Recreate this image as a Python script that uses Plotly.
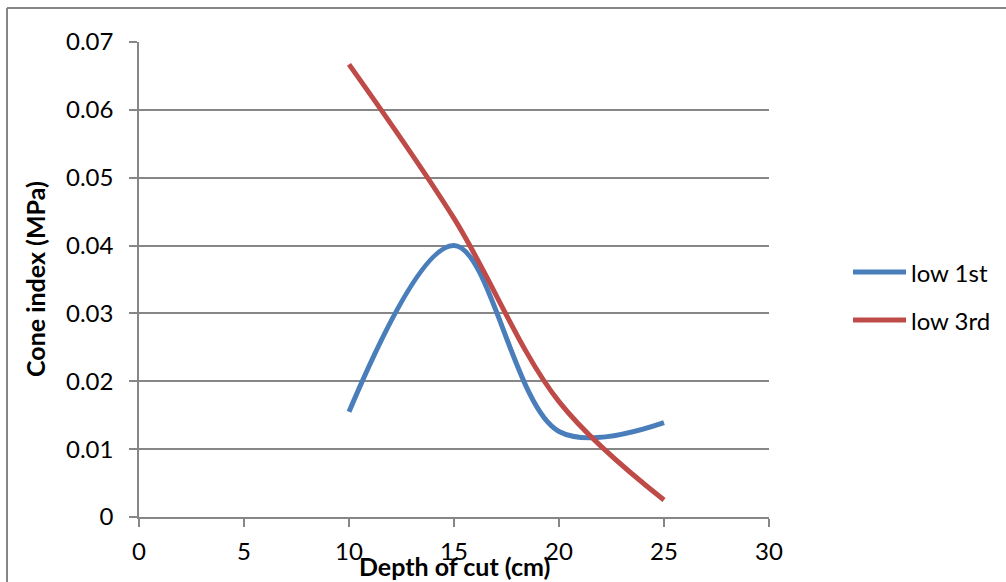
import plotly.graph_objects as go

# Cone index readings at each depth of cut
depth_cm = [10, 15, 20, 25]
low_1st = [0.0155, 0.0400, 0.0126, 0.0139]
low_3rd = [0.0667, 0.0440, 0.0170, 0.0025]

series_names = ["low 1st", "low 3rd"]
series_colors = ["#4A7EBB", "#BE4B48"]

x_ticks = [0, 5, 10, 15, 20, 25, 30]
y_ticks = [0, 0.01, 0.02, 0.03, 0.04, 0.05, 0.06, 0.07]
y_tick_text = ["0", "0.01", "0.02", "0.03", "0.04", "0.05", "0.06", "0.07"]

FONT = "Lato, Open Sans, sans-serif"
GRID = "#868686"

# plot area in pixels: left 139, right 769, top 42, bottom 517
PX_L, PX_R, PX_T, PX_B = 139, 769, 42, 517


def px_x(p):
    return (p - PX_L) / (PX_R - PX_L)


def px_y(p):
    return (PX_B - p) / (PX_B - PX_T)


fig = go.Figure()
for name, vals, color in zip(series_names, [low_1st, low_3rd], series_colors):
    fig.add_trace(go.Scatter(
        x=depth_cm, y=vals, name=name, mode="lines",
        line=dict(color=color, width=5, shape="spline", smoothing=1.0),
        showlegend=False,
    ))

# legend drawn as swatch lines with labels to the right of the plot
legend_shapes = []
legend_notes = []
for i, (name, color) in enumerate(zip(series_names, series_colors)):
    yc = 272 + 48 * i
    legend_shapes.append(dict(
        type="line", xref="paper", yref="paper",
        x0=px_x(853), x1=px_x(906), y0=px_y(yc), y1=px_y(yc),
        line=dict(color=color, width=5),
    ))
    legend_notes.append(dict(
        text=name, xref="paper", yref="paper",
        x=px_x(909), y=px_y(yc), xanchor="left", yanchor="middle",
        showarrow=False, font=dict(size=24),
    ))

frame = [
    dict(type="line", xref="paper", yref="paper",
         x0=px_x(7), x1=px_x(1010), y0=px_y(8), y1=px_y(8),
         line=dict(color=GRID, width=2)),
    dict(type="line", xref="paper", yref="paper",
         x0=px_x(7), x1=px_x(7), y0=px_y(8), y1=px_y(590),
         line=dict(color=GRID, width=2)),
]

fig.update_layout(
    width=1006, height=582,
    margin=dict(l=PX_L, r=1006 - PX_R, t=PX_T, b=582 - PX_B),
    paper_bgcolor="white", plot_bgcolor="white",
    font=dict(family=FONT, size=24, color="black"),
    showlegend=False,
    xaxis=dict(
        range=[0, 30], tickvals=x_ticks, showgrid=False,
        showline=True, linecolor=GRID, linewidth=1.5,
        ticks="outside", ticklen=8, tickcolor=GRID, tickwidth=1.5,
        ticklabelstandoff=4, zeroline=False,
    ),
    yaxis=dict(
        range=[0, 0.07], tickvals=y_ticks, ticktext=y_tick_text,
        showgrid=True, gridcolor=GRID, gridwidth=1.5,
        showline=True, linecolor=GRID, linewidth=1.5,
        ticks="outside", ticklen=8, tickcolor=GRID, tickwidth=1.5,
        ticklabelstandoff=11, zeroline=False,
    ),
    annotations=[
        dict(text="<b>Depth of cut (cm)</b>", xref="paper", yref="paper",
             x=px_x(454), y=px_y(566),
             xanchor="center", yanchor="middle", showarrow=False,
             font=dict(size=25)),
        dict(text="<b>Cone index (MPa)</b>", xref="paper", yref="paper",
             x=px_x(35), y=px_y(279),
             xanchor="center", yanchor="middle", showarrow=False,
             textangle=-90, font=dict(size=25)),
    ] + legend_notes,
    shapes=frame + legend_shapes,
)

fig.write_html("out.html")
